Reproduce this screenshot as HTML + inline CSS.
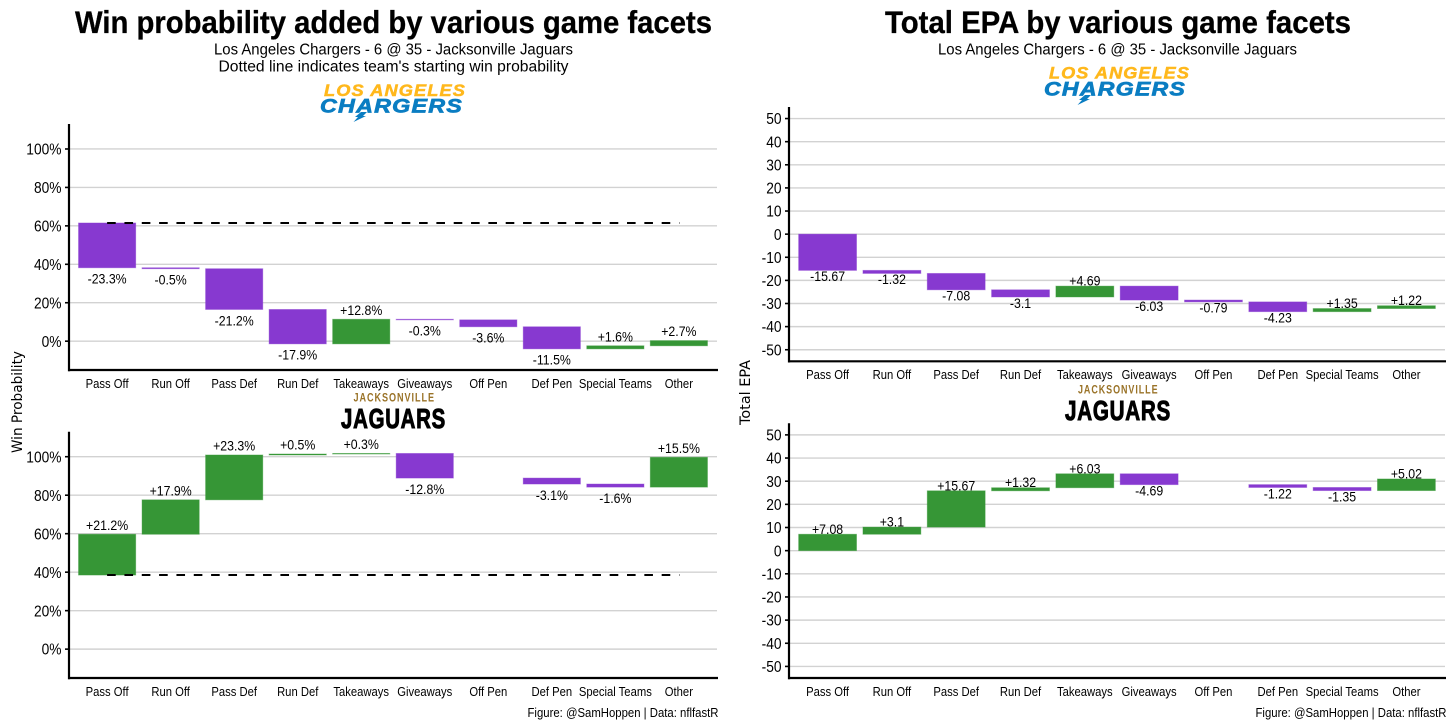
<!DOCTYPE html>
<html lang="en">
<head>
<meta charset="utf-8">
<title>Win probability and total EPA by game facets</title>
<style>
html,body{margin:0;padding:0;background:#fff;width:1456px;height:728px;overflow:hidden}
svg{display:block;font-family:"Liberation Sans",sans-serif}
</style>
</head>
<body>
<svg id="chart" xmlns="http://www.w3.org/2000/svg" width="1456" height="728" viewBox="0 0 1456 728">
  <rect width="1456" height="728" fill="#fff"/>

  <text x="75" y="33" font-size="31.5" font-weight="700" fill="#000" stroke="#000" stroke-width=".3" textLength="637" lengthAdjust="spacingAndGlyphs">Win probability added by various game facets</text>
  <text x="214" y="54.5" font-size="15.5" fill="#000" textLength="359" lengthAdjust="spacingAndGlyphs">Los Angeles Chargers - 6 @ 35 - Jacksonville Jaguars</text>
  <text x="218.5" y="71.5" font-size="15.5" fill="#000" textLength="350" lengthAdjust="spacingAndGlyphs">Dotted line indicates team's starting win probability</text>

  <text x="885" y="33" font-size="31.5" font-weight="700" fill="#000" stroke="#000" stroke-width=".3" textLength="466" lengthAdjust="spacingAndGlyphs">Total EPA by various game facets</text>
  <text x="938" y="54.5" font-size="15.5" fill="#000" textLength="359" lengthAdjust="spacingAndGlyphs">Los Angeles Chargers - 6 @ 35 - Jacksonville Jaguars</text>

  <g>
    <text x="324" y="96" font-size="16.5" font-weight="700" font-style="italic" fill="#ffb81c" stroke="#ffb81c" stroke-width=".5" letter-spacing="1" textLength="142" lengthAdjust="spacingAndGlyphs">LOS ANGELES</text>
    <text x="320" y="112.5" font-size="19" font-weight="700" font-style="italic" fill="#0a7dc2" stroke="#0a7dc2" stroke-width=".7" letter-spacing="1" textLength="143" lengthAdjust="spacingAndGlyphs">CHARGERS</text>
    <polygon points="361,112 367,112 363,116 366,116 353.5,122 358,117 355,117" fill="#0a7dc2"/>
  </g>
  <g>
    <text x="1049" y="78.5" font-size="16.5" font-weight="700" font-style="italic" fill="#ffb81c" stroke="#ffb81c" stroke-width=".5" letter-spacing="1" textLength="141" lengthAdjust="spacingAndGlyphs">LOS ANGELES</text>
    <text x="1044" y="95.5" font-size="19" font-weight="700" font-style="italic" fill="#0a7dc2" stroke="#0a7dc2" stroke-width=".7" letter-spacing="1" textLength="142" lengthAdjust="spacingAndGlyphs">CHARGERS</text>
    <polygon points="1085,95 1091,95 1087,99 1090,99 1077.5,105 1082,100 1079,100" fill="#0a7dc2"/>
  </g>
  <g>
    <text x="353.5" y="401.5" font-size="11.5" font-weight="700" fill="#9a7328" letter-spacing="1.2" textLength="81.5" lengthAdjust="spacingAndGlyphs">JACKSONVILLE</text>
    <text x="341" y="428" font-size="27.5" font-weight="700" fill="#000" stroke="#000" stroke-width="1" letter-spacing="1" textLength="105" lengthAdjust="spacingAndGlyphs">JAGUARS</text>
  </g>
  <g>
    <text x="1078" y="393.5" font-size="11.5" font-weight="700" fill="#9a7328" letter-spacing="1.2" textLength="80.5" lengthAdjust="spacingAndGlyphs">JACKSONVILLE</text>
    <text x="1065" y="420" font-size="27.5" font-weight="700" fill="#000" stroke="#000" stroke-width="1" letter-spacing="1" textLength="106" lengthAdjust="spacingAndGlyphs">JAGUARS</text>
  </g>

  <text transform="translate(22,453) rotate(-90)" font-family="'DejaVu Sans',sans-serif" font-size="14" fill="#000" textLength="102" lengthAdjust="spacingAndGlyphs">Win Probability</text>
  <text transform="translate(750,425) rotate(-90)" font-family="'DejaVu Sans',sans-serif" font-size="14" fill="#000" textLength="65" lengthAdjust="spacingAndGlyphs">Total EPA</text>

  <text x="527.5" y="717" font-size="12.5" fill="#000" textLength="191" lengthAdjust="spacingAndGlyphs">Figure: @SamHoppen | Data: nflfastR</text>
  <text x="1255.5" y="717" font-size="12.5" fill="#000" textLength="191" lengthAdjust="spacingAndGlyphs">Figure: @SamHoppen | Data: nflfastR</text>
</svg>

<script>
const categories = ['Pass Off', 'Run Off', 'Pass Def', 'Run Def', 'Takeaways', 'Giveaways', 'Off Pen', 'Def Pen', 'Special Teams', 'Other'];

const wpChargersStart = 61.5;
const wpJaguarsStart = 38.5;
const wpChargersDeltas = [-23.3, -0.5, -21.2, -17.9, 12.8, -0.3, -3.6, -11.5, 1.6, 2.7];
const wpJaguarsDeltas = [21.2, 17.9, 23.3, 0.5, 0.3, -12.8, 0, -3.1, -1.6, 15.5];

const epaChargersStart = 0;
const epaJaguarsStart = 0;
const epaChargersDeltas = [-15.67, -1.32, -7.08, -3.1, 4.69, -6.03, -0.79, -4.23, 1.35, 1.22];
const epaJaguarsDeltas = [7.08, 3.1, 15.67, 1.32, 6.03, -4.69, 0, -1.22, -1.35, 5.02];

const wpTicks = [0, 20, 40, 60, 80, 100];
const epaTicks = [-50, -40, -30, -20, -10, 0, 10, 20, 30, 40, 50];

const svg = document.getElementById('chart');
const NS = 'http://www.w3.org/2000/svg';

function make(tag, attrs, name, parent) {
  const el = document.createElementNS(NS, tag);
  for (const k in attrs) el.setAttribute(k, attrs[k]);
  
  
  (parent || svg).appendChild(el);
  return el;
}

function label(str, x, y, size, anchor, squeeze, name, parent) {
  const t = make('text', { x: x, y: y, 'font-size': size, 'text-anchor': anchor, fill: '#000' }, name, parent);
  t.textContent = str;
  const w = t.getComputedTextLength();
  t.setAttribute('textLength', (w * squeeze).toFixed(2));
  t.setAttribute('lengthAdjust', 'spacingAndGlyphs');
  return t;
}

function drawPanel(p) {
  const g = make('g', {}, p.name + '-panel');
  const step = (p.right - p.left) / (categories.length - 1 + 1.2);
  const x = i => p.left + (0.6 + i) * step;
  const y = v => p.bottom - (v - p.domain[0]) * (p.bottom - p.top) / (p.domain[1] - p.domain[0]);
  const barW = step * 0.9;

  p.ticks.forEach(v => {
    make('line', { x1: p.left, x2: p.right, y1: y(v), y2: y(v), stroke: '#d2d2d2', 'stroke-width': 1.4 }, p.name + '-gridline-' + v, g);
    make('line', { x1: p.left - 4, x2: p.left, y1: y(v), y2: y(v), stroke: '#000', 'stroke-width': 1.6 }, p.name + '-tick-' + v, g);
    label(v + p.suffix, p.left - 7.5, y(v) + 5.6, 16, 'end', 0.86, p.name + '-y-tick-label-' + v, g);
  });

  let level = p.start;
  p.deltas.forEach((d, i) => {
    const next = level + d;
    const key = categories[i].toLowerCase().replace(/\s+/g, '-');
    if (d !== 0) {
      const hi = Math.max(level, next);
      const lo = Math.min(level, next);
      const color = d < 0 ? '#8739d0' : '#369636';
      make('rect', {
        x: x(i) - barW / 2, y: y(hi), width: barW, height: y(lo) - y(hi),
        fill: color, stroke: color, 'stroke-opacity': 0.45, 'stroke-width': 0.9
      }, p.name + '-bar-' + key, g);
      const txt = (d > 0 ? '+' : '') + d + p.suffix;
      const ty = d < 0 ? y(lo) + p.belowOffset : y(hi) - p.aboveOffset;
      label(txt, x(i), ty, 14, 'middle', 0.88, p.name + '-value-' + key, g);
    }
    label(categories[i], x(i), p.bottom + 17.9, 12.5, 'middle', 0.9, p.name + '-x-label-' + key, g);
    level = next;
  });

  if (p.dashed) {
    make('line', {
      x1: x(0), x2: x(categories.length - 1) + 0.5, y1: y(p.start), y2: y(p.start),
      stroke: '#000', 'stroke-width': 2, 'stroke-dasharray': '8.6 8.73'
    }, p.name + '-starting-line', g);
  }

  make('line', { x1: p.left, x2: p.left, y1: p.top, y2: p.bottom + 1.2, stroke: '#000', 'stroke-width': 2.2 }, p.name + '-y-axis', g);
  make('line', { x1: p.left - 1, x2: p.right + 1, y1: p.bottom, y2: p.bottom, stroke: '#000', 'stroke-width': 2.2 }, p.name + '-x-axis', g);
}

drawPanel({ name: 'wp-chargers', left: 69, right: 717, top: 124, bottom: 370, domain: [-15, 113], ticks: wpTicks, suffix: '%', start: wpChargersStart, deltas: wpChargersDeltas, dashed: true, belowOffset: 15.8, aboveOffset: 4.5 });
drawPanel({ name: 'wp-jaguars', left: 69, right: 717, top: 431.7, bottom: 678, domain: [-15, 113], ticks: wpTicks, suffix: '%', start: wpJaguarsStart, deltas: wpJaguarsDeltas, dashed: true, belowOffset: 15.8, aboveOffset: 4.5 });
drawPanel({ name: 'epa-chargers', left: 789, right: 1445, top: 107, bottom: 361.3, domain: [-55, 55], ticks: epaTicks, suffix: '', start: epaChargersStart, deltas: epaChargersDeltas, dashed: false, belowOffset: 10.8, aboveOffset: 0.5 });
drawPanel({ name: 'epa-jaguars', left: 789, right: 1445, top: 423.3, bottom: 678, domain: [-55, 55], ticks: epaTicks, suffix: '', start: epaJaguarsStart, deltas: epaJaguarsDeltas, dashed: false, belowOffset: 10.8, aboveOffset: 0.5 });
</script>
</body>
</html>
